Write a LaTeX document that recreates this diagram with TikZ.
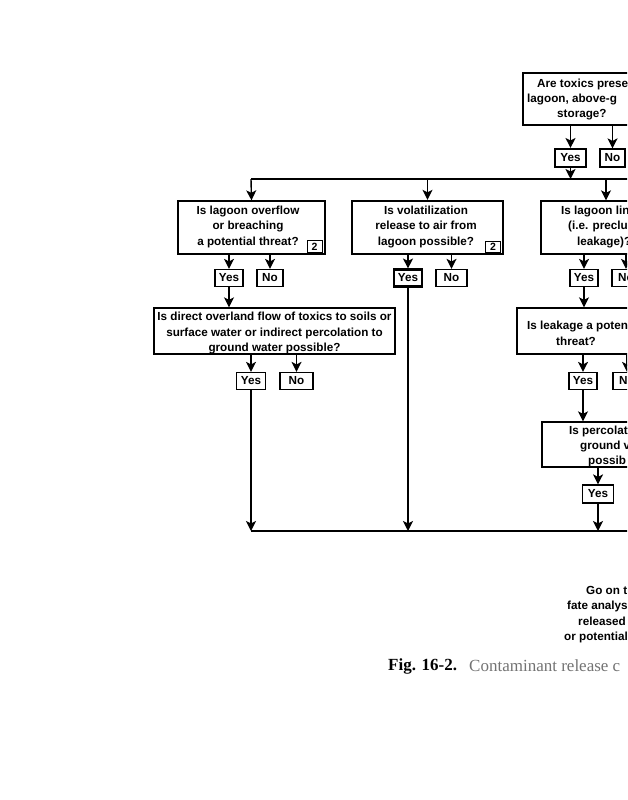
\documentclass[tikz,border=0pt]{standalone}
\usepackage{fontspec}
\setmainfont{Liberation Sans}
\newfontfamily\serifcap{Liberation Serif}
\usetikzlibrary{arrows.meta}
\begin{document}
\begin{tikzpicture}[x=1pt,y=-1pt,
  every node/.style={font=\fontsize{11.7}{15.5}\selectfont\bfseries, inner sep=0pt},
  qbox/.style={draw, line width=1.3pt, align=center},
  thickbox/.style={draw, line width=2.3pt, align=center},
  ans/.style={draw, line width=1.2pt, minimum height=17pt},
  ansthick/.style={ans, line width=2.1pt},
  numbox/.style={draw, line width=1pt, minimum width=15pt, minimum height=11.5pt, font=\fontsize{10.5}{11}\selectfont\bfseries},
  arr/.style={-{Stealth[length=10pt,width=10pt,inset=2.5pt]}, line width=1.4pt},
  ln/.style={line width=1.3pt},
  tx/.style={anchor=west}]
\useasboundingbox (0,0) rectangle (627,800);
\clip (0,0) rectangle (627,800);

% top question
\node[thickbox, minimum width=197pt, minimum height=52pt] (top) at (621.5,99) {};
\node[tx] (t1) at (537,84) {Are toxics prese};
\node[tx] (t2) at (527,100) {lagoon, above-g};
\node[tx] (t3) at (557,115) {storage?};
\node[ansthick, minimum width=31pt, minimum height=18pt] (topyes) at (570.5,158) {Yes};
\node[ans, minimum width=25pt, minimum height=18pt] (topno) at (612.5,158) {No};
\draw[arr] (top.south -| topyes) -- (topyes.north);
\draw[arr] (top.south -| topno) -- (topno.north);

% upper bus
\coordinate (bus1L) at (251,179);
\coordinate (bus1R) at (660,179);
\coordinate (bus1r) at (606,179);
\draw[arr] (topyes.south) -- (topyes.south |- bus1L);
\draw[ln] (bus1L) -- (bus1R);

% left question
\node[qbox, minimum width=147pt, minimum height=53pt] (lbox) at (251.5,227.5) {};
\node[align=center] (ltext) at (248,226.5) {Is lagoon overflow\\or breaching\\a potential threat?};
\node[numbox, anchor=south east] (n1) at ([xshift=-3pt,yshift=2pt]lbox.south east) {2};
\draw[arr] (bus1L) -- (lbox.north);
\node[ans, minimum width=28pt] (lyes) at (229,278) {Yes};
\node[ans, minimum width=26pt] (lno) at (270,278) {No};
\draw[arr] (lbox.south -| lyes) -- (lyes.north);
\draw[arr] (lbox.south -| lno) -- (lno.north);

% middle question
\node[thickbox, minimum width=151pt, minimum height=53pt] (mbox) at (427.5,227.5) {};
\node[align=center] (mtext) at (426,226.5) {Is volatilization\\release to air from\\lagoon possible?};
\node[numbox, anchor=south east] (n2) at ([xshift=-3pt,yshift=2pt]mbox.south east) {2};
\draw[arr] (mbox.north |- bus1L) -- (mbox.north);
\node[ansthick, minimum width=28pt] (myes) at (408,278) {Yes};
\node[ans, minimum width=31pt] (mno) at (451.5,278) {No};
\draw[arr] (mbox.south -| myes) -- (myes.north);
\draw[arr] (mbox.south -| mno) -- (mno.north);

% right question
\node[qbox, minimum width=179pt, minimum height=53pt] (rbox) at (630.5,227.5) {};
\node[tx] (r1) at (561,211) {Is lagoon lin};
\node[tx] (r2) at (568,226) {(i.e. preclu};
\node[tx] (r3) at (577,242) {leakage)?};
\draw[arr] (bus1r) -- (bus1r |- rbox.north);
\node[ans, minimum width=28pt] (ryes) at (584,278) {Yes};
\node[ans, minimum width=28pt] (rno) at (626,278) {No};
\draw[arr] (rbox.south -| ryes) -- (ryes.north);
\draw[arr] (rbox.south -| rno) -- (rno.north);

% left second question
\node[qbox, minimum width=241pt, minimum height=46pt] (l2box) at (274.5,331) {};
\node[align=center] (l2text) at (274.5,333) {Is direct overland flow of toxics to soils or\\surface water or indirect percolation to\\ground water possible?};
\draw[arr] (lyes.south) -- (lyes.south |- l2box.north);
\node[ans, minimum width=29pt] (l2yes) at (251,381) {Yes};
\node[ans, minimum width=33pt] (l2no) at (296.5,381) {No};
\draw[arr] (l2box.south -| l2yes) -- (l2yes.north);
\draw[arr] (l2box.south -| l2no) -- (l2no.north);

% right second question
\node[qbox, minimum width=203pt, minimum height=46pt] (r2box) at (618.5,331) {};
\node[tx] (r21) at (527,326) {Is leakage a poten};
\node[tx] (r22) at (556,341) {threat?};
\draw[arr] (ryes.south) -- (ryes.south |- r2box.north);
\node[ans, minimum width=28pt] (r2yes) at (583,381) {Yes};
\node[ans, minimum width=28pt] (r2no) at (627,381) {No};
\draw[arr] (r2box.south -| r2yes) -- (r2yes.north);
\draw[arr] (r2box.south -| r2no) -- (r2no.north);

% right third question
\node[qbox, minimum width=178pt, minimum height=45pt] (r3box) at (631,444.5) {};
\node[tx] (r31) at (569,431) {Is percolat};
\node[tx] (r32) at (580,446) {ground v};
\node[tx] (r33) at (588,461) {possib};
\draw[arr] (r2yes.south) -- (r2yes.south |- r3box.north);
\node[ans, minimum width=31pt, minimum height=18pt] (r3yes) at (598,494) {Yes};
\draw[arr] (r3box.south -| r3yes) -- (r3yes.north);

% lower bus
\coordinate (bus2L) at (252,531);
\coordinate (bus2R) at (660,531);
\draw[arr] (l2yes.south) -- (l2yes.south |- bus2L);
\draw[arr] (myes.south) -- (myes.south |- bus2L);
\draw[arr] (r3yes.south) -- (r3yes.south |- bus2L);
\draw[ln] (l2yes.south |- bus2L) -- (bus2R);

% go on text
\node[tx] (g1) at (586,590) {Go on t};
\node[tx] (g2) at (567,606) {fate analys};
\node[tx] (g3) at (578,621) {released};
\node[tx] (g4) at (564,637) {or potential};

% caption
\node[tx, font=\serifcap\fontsize{17}{19}\selectfont\bfseries] (fig) at (388,666) {Fig. 16-2.};
\node[tx, font=\serifcap\fontsize{17}{19}\selectfont, text=black!55] (cap) at (469,666) {Contaminant release c};
\end{tikzpicture}
\end{document}
